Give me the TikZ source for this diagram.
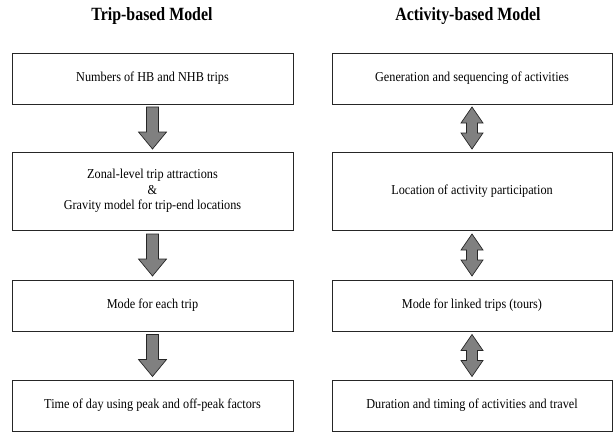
\documentclass[tikz,border=0pt]{standalone}
\usepackage{fontspec}
\setmainfont[FakeStretch=0.9]{Liberation Serif}
\newfontfamily\headfont[FakeStretch=0.85]{Liberation Serif}
\usetikzlibrary{calc}

\tikzset{
  box/.style={draw=black!85, line width=0.9pt, minimum height=51pt, inner sep=0pt,
              align=center, font=\fontsize{13.6}{15.5}\selectfont},
  leftbox/.style={box, minimum width=281pt},
  rightbox/.style={box, minimum width=280pt},
  heading/.style={font=\headfont\fontsize{18.7}{21}\selectfont\bfseries},
  blockarrow/.style={draw=black!85, line width=0.7pt, fill=black!50, line join=miter},
  % one-way block arrow pointing down
  downblock/.pic={
    \draw[blockarrow] (-6,-21) -- (6,-21) -- (6,4) -- (14,4) -- (0,21)
      -- (-14,4) -- (-6,4) -- cycle;
  },
  % two-way block arrow
  bothblock/.pic={
    \draw[blockarrow] (0,-21) -- (11,-5) -- (5.5,-5) -- (5.5,5) -- (11,5)
      -- (0,21) -- (-11,5) -- (-5.5,5) -- (-5.5,-5) -- (-11,-5) -- cycle;
  }
}

\begin{document}
\begin{tikzpicture}[x=1pt, y=-1pt]
  \useasboundingbox (0,0) rectangle (615,433);

  % column headings
  \node[heading] (tl) at (152,16) {Trip-based Model};
  \node[heading] (tr) at (468,16) {Activity-based Model};

  % trip-based sequence
  \node[leftbox] (l1) at (152.5,78.5) {Numbers of HB and NHB trips};
  \node[leftbox, minimum height=78pt] (l2) at (152.5,191)
    {Zonal-level trip attractions\\ \&\\ Gravity model for trip-end locations};
  \node[leftbox] (l3) at (152.5,305.5) {Mode for each trip};
  \node[leftbox] (l4) at (152.5,405.5) {Time of day using peak and off-peak factors};

  % activity-based sequence
  \node[rightbox] (r1) at (472,78.5) {Generation and sequencing of activities};
  \node[rightbox, minimum height=78pt] (r2) at (472,191) {Location of activity participation};
  \node[rightbox] (r3) at (472,305.5) {Mode for linked trips (tours)};
  \node[rightbox] (r4) at (472,405.5) {Duration and timing of activities and travel};

  % links between the steps
  \foreach \a/\b in {l1/l2, l2/l3, l3/l4}
    \pic at ($(\a.south)!0.5!(\b.north)$) {downblock};
  \foreach \a/\b in {r1/r2, r2/r3, r3/r4}
    \pic at ($(\a.south)!0.5!(\b.north)$) {bothblock};
\end{tikzpicture}
\end{document}
